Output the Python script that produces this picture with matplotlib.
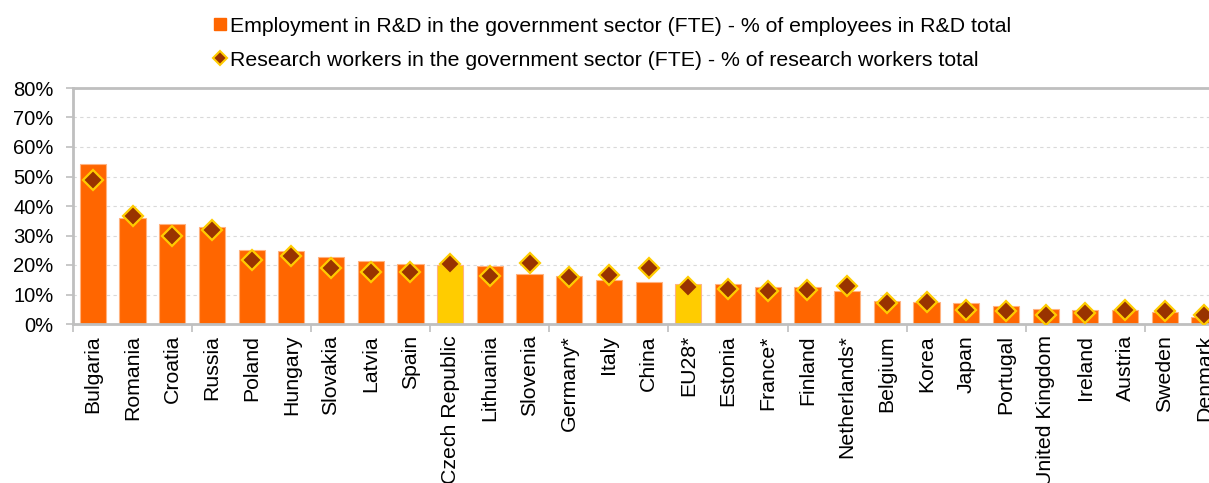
import numpy as np
import matplotlib
matplotlib.use("Agg")
import matplotlib.pyplot as plt
from matplotlib.lines import Line2D

# values (percent)
countries = ["Bulgaria", "Romania", "Croatia", "Russia", "Poland", "Hungary",
             "Slovakia", "Latvia", "Spain", "Czech Republic", "Lithuania",
             "Slovenia", "Germany*", "Italy", "China", "EU28*", "Estonia",
             "France*", "Finland", "Netherlands*", "Belgium", "Korea", "Japan",
             "Portugal", "United Kingdom", "Ireland", "Austria", "Sweden",
             "Denmark"]
employment = [54.3, 35.9, 34.0, 33.0, 25.1, 24.9, 22.7, 21.5, 20.4, 19.9,
              19.8, 17.1, 16.4, 15.0, 14.2, 13.5, 13.5, 12.7, 12.5, 11.1,
              7.7, 7.6, 7.0, 6.0, 5.2, 4.7, 4.6, 4.0, 2.3]
researchers = [48.7, 36.5, 29.9, 31.7, 21.6, 22.9, 18.9, 17.5, 17.7, 20.5,
               16.2, 20.8, 15.8, 16.5, 19.1, 12.5, 11.9, 11.2, 11.5, 13.0,
               7.1, 7.5, 4.7, 4.5, 3.2, 3.7, 4.6, 4.3, 2.9]
highlight = ["Czech Republic", "EU28*"]

ORANGE = "#FF6600"
GOLD = "#FFCC00"
BROWN = "#993300"
GREY = "#BFBFBF"

plt.rcParams['font.family'] = ['Liberation Sans', 'DejaVu Sans']

fig = plt.figure(figsize=(12.09, 4.83), dpi=100)
# axes runs past the right edge, the reference is cropped there
ax = fig.add_axes([73 / 1209, 159 / 483, 1191 / 1209, 236 / 483])

x = np.arange(len(countries))
colors = [GOLD if c in highlight else ORANGE for c in countries]
ax.bar(x, np.array(employment) / 100, width=0.66, color=colors,
       edgecolor="#FFB380", linewidth=0.8, zorder=2)
ax.plot(x, np.array(researchers) / 100, linestyle="none", marker="D",
        markersize=10, markerfacecolor=BROWN, markeredgecolor=GOLD,
        markeredgewidth=1.6, zorder=3)

ax.set_xlim(-0.5, 29.5)
ax.set_ylim(0, 0.8)
ax.set_yticks(np.arange(0, 0.81, 0.1))
ax.set_yticklabels([f"{int(round(v * 100))}%" for v in np.arange(0, 0.81, 0.1)],
                   fontsize=14.5)
ax.set_xticks(x)
ax.set_xticklabels(countries, rotation=90, fontsize=15.3, va="top")
ax.set_xticks(np.arange(-0.5, 30, 3), minor=True)
ax.tick_params(axis="x", which="major", length=0, pad=8)
ax.tick_params(axis="x", which="minor", length=6, width=1.2, color=GREY)
ax.tick_params(axis="y", length=5, width=1.2, color=GREY, pad=9)

ax.grid(axis="y", color="#D9D9D9", linestyle=(0, (3, 3)), linewidth=0.8, zorder=0)
for side in ["left", "bottom", "top"]:
    ax.spines[side].set_color(GREY)
    ax.spines[side].set_linewidth(2)
ax.spines["right"].set_visible(False)

handles = [
    Line2D([], [], linestyle="none", marker="s", markersize=8,
           markerfacecolor=ORANGE, markeredgecolor=ORANGE),
    Line2D([], [], linestyle="none", marker="D", markersize=7.5,
           markerfacecolor=BROWN, markeredgecolor=GOLD, markeredgewidth=1.5),
]
labels = ["Employment in R&D in the government sector (FTE) - % of employees in R&D total",
          "Research workers in the government sector (FTE) - % of research workers total"]
fig.legend(handles, labels, loc="upper left", bbox_to_anchor=(206 / 1209, 1 - 8 / 483),
           frameon=False, fontsize=15.3, handlelength=0.55, handletextpad=0.2,
           labelspacing=0.72, borderaxespad=0)

fig.savefig("out.png", dpi=100)
